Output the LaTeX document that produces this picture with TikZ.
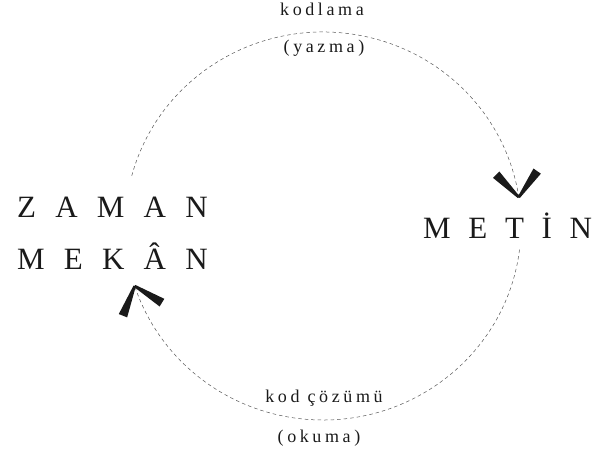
\documentclass[tikz,border=0pt]{standalone}
\usepackage{fontspec}
\setmainfont{Liberation Serif}
\newfontfamily\wideface[LetterSpace=62]{Liberation Serif}
\newfontfamily\narrowface[LetterSpace=57]{Liberation Serif}
\newfontfamily\glossface[LetterSpace=20]{Liberation Serif}
\usetikzlibrary{calc}
\definecolor{ink}{HTML}{1A1A1A}
\definecolor{mute}{HTML}{555555}

\begin{document}
\begin{tikzpicture}[
    x=1pt, y=1pt,
    word/.style={inner sep=0pt, anchor=base west, text=ink,
                 font=\wideface\fontsize{31}{31}\selectfont},
    gloss/.style={inner sep=0pt, anchor=base, text=ink,
                  font=\glossface\fontsize{18}{18}\selectfont},
    loopline/.style={line width=0.5pt, color=mute, dash pattern=on 3.5pt off 3pt},
    vtip/.pic={%
      \foreach \a in {50,130}
        \fill[ink, rotate=\a] (0,-1.2) -- (32,-4.5) -- (32,4.5) -- (0,1.2) -- cycle;
    }
  ]
\useasboundingbox (0,0) rectangle (596,452);

% ---------------- geometry ----------------
\def\rx{198}   % horizontal radius of the loop
\def\ry{194}   % vertical radius of the loop
\coordinate (mid) at (323,226);

% ---------------- words ----------------
\node[word] (zaman) at (17,234) {ZAMAN};
\node[word] (mekan) at (17,182) {MEKÂN};
\node[word, font=\narrowface\fontsize{31}{31}\selectfont] (metin) at (423,213) {METİN};

% ---------------- glosses ----------------
\node[gloss] (kodlama)   at (322,436) {kodlama};
\node[gloss] (yazma)     at (324,399) {(yazma)};
\node[gloss] (kodcozumu) at (324,49)  {kod çözümü};
\node[gloss] (okuma)     at (319,10)  {(okuma)};

% ---------------- loop ends ----------------
\coordinate (enc)    at ($(mid)+(165:\rx pt and \ry pt)$);
\coordinate (enctip) at ($(mid)+(8.5:\rx pt and \ry pt)$);
\coordinate (dec)    at ($(mid)+(-7:\rx pt and \ry pt)$);
\coordinate (dectip) at ($(mid)+(198:\rx pt and \ry pt)$);

% ---------------- dashed arcs ----------------
\draw[loopline] (enc) arc[start angle=165, end angle=8.5, x radius=\rx, y radius=\ry];
\draw[loopline] (dec) arc[start angle=-7, end angle=-162, x radius=\rx, y radius=\ry];

% ---------------- heads ----------------
\pic[rotate=5]     at (enctip) {vtip};
\pic[rotate=198.5] at (dectip) {vtip};

\end{tikzpicture}
\end{document}
